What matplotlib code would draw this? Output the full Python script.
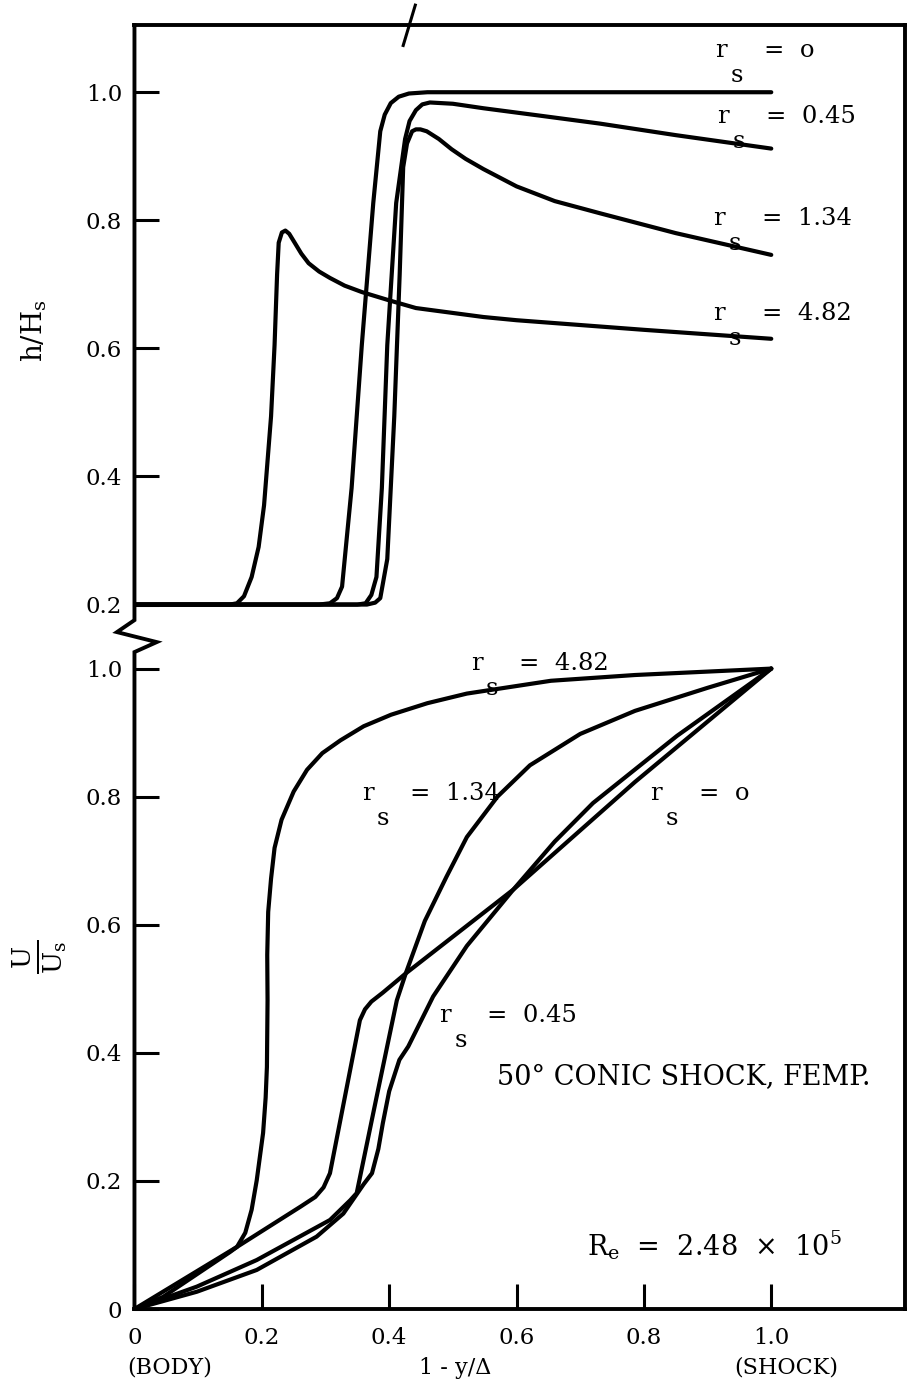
import numpy as np
import matplotlib.pyplot as plt

plt.rcParams['font.family'] = 'DejaVu Serif'
plt.rcParams['mathtext.fontset'] = 'dejavuserif'

# enthalpy profiles h/Hs (upper panel), x = 1 - y/delta
h_x_0 = [0.0, 0.29, 0.307, 0.318, 0.326, 0.341, 0.357, 0.375, 0.386, 0.393, 0.4025, 0.415,
         0.431, 0.46, 1.0]
h_0 = [0.2, 0.2, 0.202, 0.21, 0.228, 0.382, 0.605, 0.827, 0.939, 0.965, 0.983, 0.993,
       0.998, 1.0, 1.0]

h_x_045 = [0.0, 0.35, 0.363, 0.372, 0.380, 0.3885, 0.397, 0.411, 0.425, 0.432, 0.442, 0.452,
           0.464, 0.5, 0.548, 0.64, 0.731, 0.85, 1.0]
h_045 = [0.2, 0.2, 0.202, 0.215, 0.243, 0.382, 0.605, 0.827, 0.927, 0.955, 0.972, 0.981,
         0.984, 0.982, 0.975, 0.963, 0.951, 0.933, 0.912]

h_x_134 = [0.0, 0.365, 0.378, 0.386, 0.397, 0.408, 0.4165, 0.422, 0.428, 0.436, 0.442, 0.449,
           0.459, 0.478, 0.498, 0.52, 0.548, 0.6, 0.66, 0.731, 0.85, 1.0]
h_134 = [0.2, 0.2, 0.203, 0.21, 0.271, 0.494, 0.716, 0.883, 0.92, 0.939, 0.942, 0.942,
         0.939, 0.927, 0.911, 0.896, 0.880, 0.853, 0.83, 0.811, 0.78, 0.746]

h_x_482 = [0.0, 0.15, 0.161, 0.172, 0.184, 0.195, 0.2035, 0.2145, 0.220, 0.224, 0.2265, 0.2315,
           0.237, 0.243, 0.251, 0.262, 0.2735, 0.29, 0.307, 0.33, 0.357, 0.4, 0.442, 0.548,
           0.6, 0.8, 1.0]
h_482 = [0.2, 0.2, 0.202, 0.213, 0.243, 0.29, 0.355, 0.494, 0.605, 0.716, 0.765, 0.781,
         0.784, 0.779, 0.766, 0.748, 0.733, 0.72, 0.710, 0.698, 0.688, 0.675, 0.663, 0.649,
         0.644, 0.629, 0.615]

# velocity profiles U/Us (lower panel)
u_x_0 = [0.0, 0.161, 0.261, 0.284, 0.297, 0.307, 0.354, 0.362, 0.372, 0.390, 0.426, 0.595,
         0.786, 1.0]
u_0 = [0.0, 0.097, 0.16, 0.175, 0.19, 0.212, 0.451, 0.468, 0.480, 0.494, 0.524, 0.655,
       0.823, 1.0]

u_x_045 = [0.0, 0.098, 0.192, 0.286, 0.328, 0.36, 0.373, 0.383, 0.39, 0.40, 0.416, 0.43,
           0.445, 0.469, 0.522, 0.595, 0.66, 0.720, 0.852, 1.0]
u_045 = [0.0, 0.027, 0.061, 0.113, 0.149, 0.195, 0.212, 0.25, 0.29, 0.34, 0.389, 0.41,
         0.44, 0.488, 0.567, 0.655, 0.73, 0.790, 0.895, 1.0]

u_x_134 = [0.0, 0.098, 0.192, 0.307, 0.339, 0.349, 0.38, 0.412, 0.426, 0.456, 0.49, 0.522,
           0.57, 0.621, 0.7, 0.786, 0.9, 1.0]
u_134 = [0.0, 0.035, 0.0765, 0.139, 0.170, 0.181, 0.33, 0.482, 0.524, 0.606, 0.675, 0.737,
         0.8, 0.849, 0.898, 0.934, 0.97, 1.0]

u_x_482 = [0.0, 0.045, 0.150, 0.161, 0.174, 0.184, 0.192, 0.202, 0.206, 0.208, 0.209, 0.2085,
           0.21, 0.2145, 0.22, 0.231, 0.25, 0.271, 0.295, 0.3235, 0.36, 0.403, 0.46, 0.522,
           0.654, 0.786, 1.0]
u_482 = [0.0, 0.019, 0.089, 0.097, 0.119, 0.155, 0.201, 0.275, 0.33, 0.378, 0.482, 0.553,
         0.62, 0.672, 0.72, 0.764, 0.808, 0.842, 0.868, 0.888, 0.91, 0.928, 0.946, 0.961,
         0.981, 0.990, 1.0]

x_ticks = [0, 0.2, 0.4, 0.6, 0.8, 1.0]
x_tick_labels = ['0', '0.2', '0.4', '0.6', '0.8', '1.0']
u_ticks = [0, 0.2, 0.4, 0.6, 0.8, 1.0]
u_tick_labels = ['0', '0.2', '0.4', '0.6', '0.8', '1.0']
h_ticks = [0.2, 0.4, 0.6, 0.8, 1.0]
h_tick_labels = ['0.2', '0.4', '0.6', '0.8', '1.0']

# upper panel sits on the same axis, shifted up
h_shift = 0.9

fig = plt.figure(figsize=(9.11, 13.88), dpi=100)
ax = fig.add_axes([0.1476, 0.0569, 0.8458, 0.9251])
ax.set_xlim(0, 1.21)
ax.set_ylim(0, 2.005)

style = dict(color='black', lw=3.0, solid_joinstyle='round', solid_capstyle='round')
for xs, hs in [(h_x_0, h_0), (h_x_045, h_045), (h_x_134, h_134), (h_x_482, h_482)]:
    ax.plot(xs, np.array(hs) + h_shift, **style)
for xs, us in [(u_x_0, u_0), (u_x_045, u_045), (u_x_134, u_134), (u_x_482, u_482)]:
    ax.plot(xs, us, **style)

# frame
for side in ['top', 'right', 'bottom']:
    ax.spines[side].set_linewidth(2.8)
ax.spines['left'].set_visible(False)

# left axis with a zigzag break between the two panels
brk_x = [0, 0, -0.0275, 0.035, 0, 0]
brk_y = [2.005, 1.0757, 1.057, 1.0414, 1.0258, 0]
ax.plot(brk_x, brk_y, color='black', lw=2.8, clip_on=False, solid_joinstyle='miter')
# slash on the top edge
ax.plot([0.441, 0.422], [2.036, 1.973], color='black', lw=2.2, clip_on=False)

ax.set_xticks(x_ticks)
ax.set_xticklabels(x_tick_labels)
ax.set_yticks(u_ticks + [v + h_shift for v in h_ticks])
ax.set_yticklabels(u_tick_labels + h_tick_labels)
ax.tick_params(axis='both', direction='in', length=18, width=2.2, labelsize=16.5, color='black')
ax.tick_params(axis='x', pad=13)
ax.tick_params(axis='y', pad=9)

tk = dict(fontsize=16, ha='center', va='center')
ax.text(0.056, -0.092, '(BODY)', **tk)
ax.text(0.504, -0.092, '1 - y/\u0394', **tk)
ax.text(1.024, -0.092, '(SHOCK)', **tk)

ax.text(-0.158, 1.528, r'h/H$_{\mathregular{s}}$', rotation=90, fontsize=20, ha='center', va='center')
ax.text(-0.150, 0.55, r'$\frac{\mathregular{U}}{\mathregular{U_s}}$', rotation=90, fontsize=27,
        ha='center', va='center')


def rs_label(x, y, value):
    kw = dict(fontsize=17.5, ha='left', va='baseline')
    ax.text(x, y, 'r', **kw)
    ax.annotate('s', xy=(x, y), xytext=(11, -18), textcoords='offset points', **kw)
    ax.annotate('=  ' + value, xy=(x, y), xytext=(35, 0), textcoords='offset points', **kw)


rs_label(0.912, 1.955, 'o')
rs_label(0.915, 1.852, '0.45')
rs_label(0.909, 1.692, '1.34')
rs_label(0.909, 1.544, '4.82')

rs_label(0.528, 0.998, '4.82')
rs_label(0.357, 0.795, '1.34')
rs_label(0.810, 0.795, 'o')
rs_label(0.478, 0.448, '0.45')

ax.text(0.570, 0.361, '50\u00b0 CONIC SHOCK, FEMP.', fontsize=19.5, ha='left', va='center')
ax.text(0.711, 0.10, r'R$_{\mathregular{e}}$  =  2.48  ' + '\u00d7' + r'  10$^{\mathregular{5}}$',
        fontsize=19.5, ha='left', va='center')

fig.savefig('out.png', dpi=100)
